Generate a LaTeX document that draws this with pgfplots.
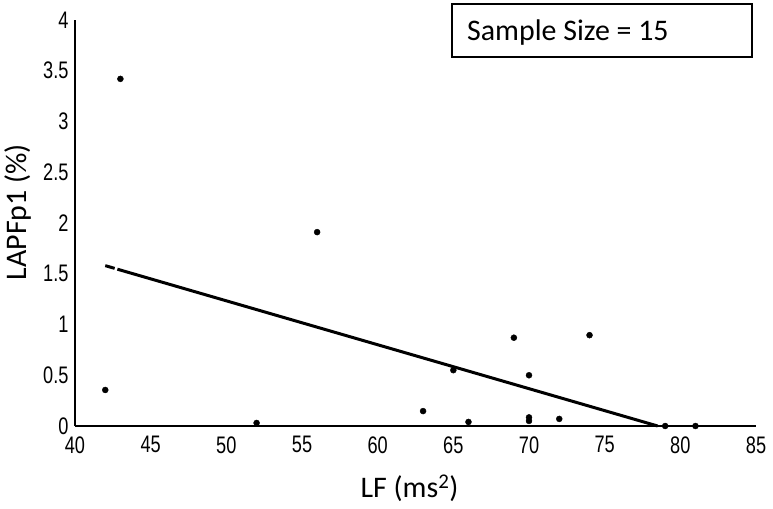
\documentclass[border=0pt]{standalone}
\usepackage{fontspec}
\setmainfont{Carlito}
\newfontfamily\tickfont[FakeStretch=0.76]{Liberation Sans}
\usepackage{pgfplots}
\pgfplotsset{compat=1.18}
\begin{document}
\begin{tikzpicture}
\begin{axis}[
  scale only axis, width=681bp, height=406bp,
  xmin=40, xmax=85, ymin=0, ymax=4,
  xtick={40,45,...,85}, ytick={0,0.5,...,4},
  axis x line=bottom, axis y line=left,
  axis line style={line width=2.8bp, -},
  major tick length=0pt,
  tick label style={font=\tickfont\fontsize{24}{24}\selectfont, black},
  /pgf/number format/assume math mode=true,
  xticklabel style={yshift=-7bp},
  yticklabel style={xshift=-3bp},
  xlabel={LF (ms\textsuperscript{2})},
  ylabel={LAPFp1 (\%)},
  label style={font=\fontsize{30}{30}\selectfont},
  xlabel style={yshift=-15bp, xshift=-6bp},
  ylabel style={yshift=5bp, xshift=11bp},
  clip=false,
]
\addplot[only marks, mark=*, mark size=3bp, black] coordinates {
(42,0.355) (43,3.42) (52,0.03) (56,1.91) (63,0.147) (65,0.55) (66,0.04)
(69,0.87) (70,0.50) (70,0.085) (70,0.05) (72,0.07) (74,0.895) (79,0.0) (81,0.0)
};
\addplot[black, line width=3bp] coordinates {(42,1.58) (42.62,1.553)};
\addplot[black, line width=3bp] coordinates {(42.8,1.545) (78.5,0)};
\end{axis}
\draw[line width=1.4bp] ([shift={(377bp,16bp)}]current axis.north west) rectangle ++(300bp,-53bp);
\node[anchor=base west, inner sep=0pt, font=\fontsize{30}{30}\selectfont]
  at ([shift={(392bp,-21bp)}]current axis.north west) {Sample Size = 15};
\pgfresetboundingbox
\path[use as bounding box] ([shift={(-75bp,-82bp)}]current axis.south west) rectangle ([shift={(17bp,20bp)}]current axis.north east);
\end{tikzpicture}
\end{document}
